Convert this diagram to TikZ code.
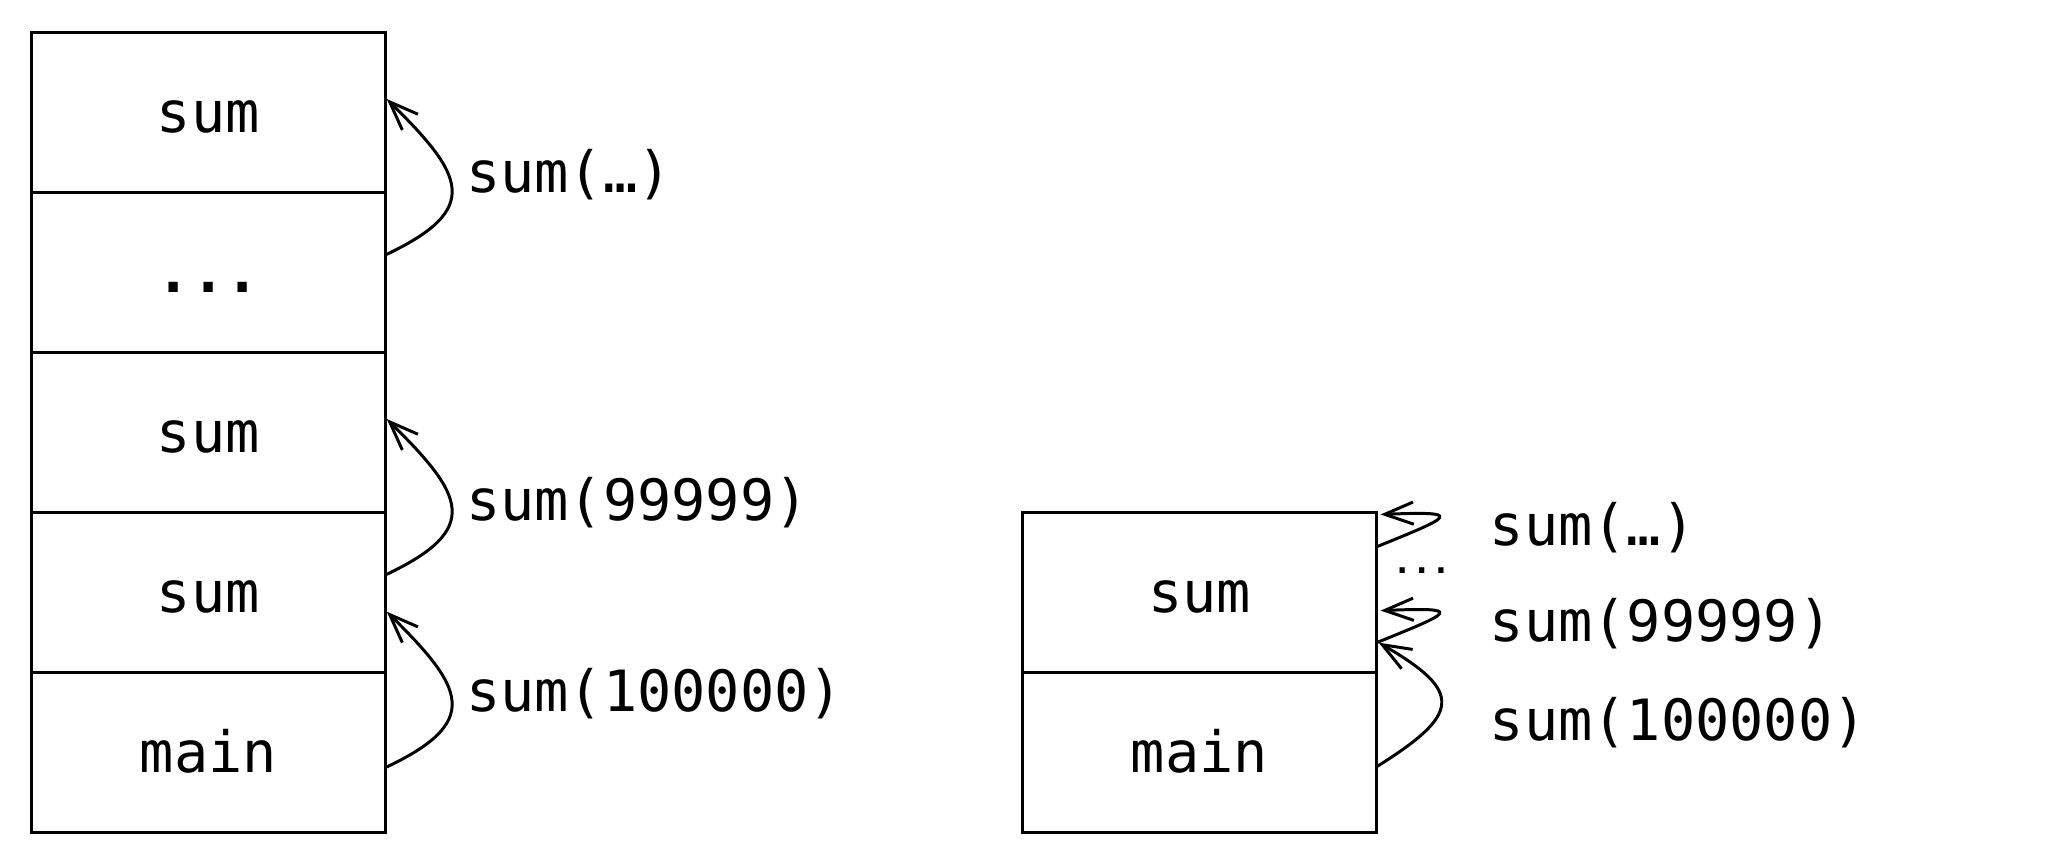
\documentclass[tikz,border=0pt]{standalone}
\usepackage{fontspec}
\setmonofont{DejaVu Sans Mono}
\usetikzlibrary{arrows.meta}
\begin{document}
\begin{tikzpicture}[x=0.02cm,y=-0.02cm,
  box/.style={draw, line width=1.3pt, minimum width=5.41cm, minimum height=2.452cm,
    inner sep=0pt, text height=0.612cm, text depth=0pt,
    font=\ttfamily\fontsize{24.8}{29}\selectfont},
  lbl/.style={anchor=base west, inner sep=0pt, font=\ttfamily\fontsize{24.8}{29}\selectfont},
  smalldots/.style={inner sep=0pt, font=\ttfamily\bfseries\fontsize{14}{17}\selectfont},
  call/.style={line width=1.3pt, -{Straight Barb[length=4.4mm,width=3.4mm]}}]
\useasboundingbox (0,0) rectangle (1568,661.5);

% left stack
\node[box] (s1) at (159.55,85.8) {sum};
\node[box, font=\ttfamily\bfseries\fontsize{24.8}{29}\selectfont] (sd) at (159.55,208.4) {...};
\node[box] (s3) at (159.55,331.0) {sum};
\node[box] (s4) at (159.55,453.6) {sum};
\node[box] (mL) at (159.55,576.2) {main};

% right stack
\node[box] (sR) at (918.3,453.6) {sum};
\node[box] (mR) at (918.3,576.2) {main};

% left labels
\node[lbl] (l1) at (356.5,147.5) {sum(…)};
\node[lbl] (l2) at (356.5,398.2) {sum(99999)};
\node[lbl] (l3) at (356.5,545.0) {sum(100000)};

% right labels
\node[lbl] (r1) at (1140.3,417.3) {sum(…)};
\node[lbl] (r2) at (1140.3,491.3) {sum(99999)};
\node[lbl] (r3) at (1140.3,566.6) {sum(100000)};
\node[smalldots] (rd) at (1088.5,436.9) {...};

% connector end points
\coordinate (a1s) at (294.8,195.3);
\coordinate (a1e) at (296.1,75.8);
\coordinate (a2s) at (294.8,440.3);
\coordinate (a2e) at (296.1,320.8);
\coordinate (a3s) at (294.8,587.8);
\coordinate (a3e) at (296.1,468.3);
\coordinate (rbs) at (1054,587);
\coordinate (rbe) at (1055.5,492);
\coordinate (q1s) at (1054,418.6);
\coordinate (q1e) at (1057,393.9);
\coordinate (q2s) at (1054,492);
\coordinate (q2e) at (1057,467.5);

\draw[call] (a1s) .. controls +(75.2,-35.3) and +(58.9,58.2) .. (a1e);
\draw[call] (a2s) .. controls +(75.2,-35.3) and +(58.9,58.2) .. (a2e);
\draw[call] (a3s) .. controls +(75.2,-35.3) and +(58.9,58.2) .. (a3e);
\draw[call] (rbs) .. controls +(64.1,-40.1) and +(65.5,37.8) .. (rbe);
\draw[call] (q1s) .. controls +(59.3,-24) and +(64,-2.6) .. (q1e);
\draw[call] (q2s) .. controls +(59.3,-24) and +(64,-2.6) .. (q2e);
\end{tikzpicture}
\end{document}
